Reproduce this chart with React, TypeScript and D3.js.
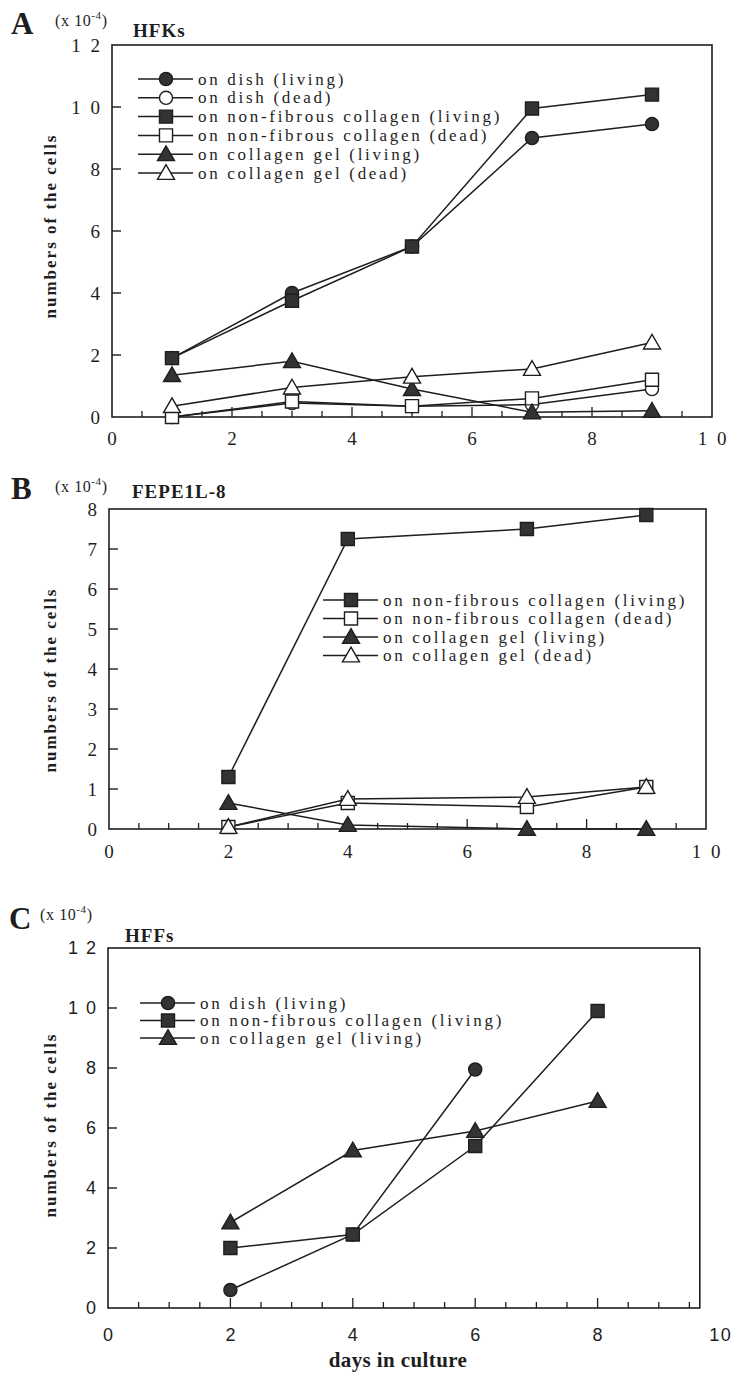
import React from "react";
import * as d3 from "d3";

// ---------- data ----------
const hfkDays = [1, 3, 5, 7, 9];
const hfkDishLiving = [1.9, 4.0, 5.5, 9.0, 9.45];
const hfkDishDead = [0.0, 0.45, 0.35, 0.4, 0.9];
const hfkNfLiving = [1.9, 3.75, 5.5, 9.95, 10.4];
const hfkNfDead = [0.0, 0.5, 0.35, 0.6, 1.2];
const hfkGelLiving = [1.35, 1.8, 0.9, 0.15, 0.2];
const hfkGelDead = [0.35, 0.95, 1.3, 1.55, 2.4];

const fepDays = [2, 4, 7, 9];
const fepNfLiving = [1.3, 7.25, 7.5, 7.85];
const fepNfDead = [0.05, 0.65, 0.55, 1.05];
const fepGelLiving = [0.65, 0.1, 0.0, 0.0];
const fepGelDead = [0.05, 0.75, 0.8, 1.05];

const hffDishDays = [2, 4, 6];
const hffDish = [0.6, 2.45, 7.95];
const hffDays = [2, 4, 6, 8];
const hffNf = [2.0, 2.45, 5.4, 9.9];
const hffGel = [2.85, 5.25, 5.9, 6.9];

const labelsA = [
  "on dish (living)",
  "on dish (dead)",
  "on non-fibrous collagen (living)",
  "on non-fibrous collagen (dead)",
  "on collagen gel (living)",
  "on collagen gel (dead)",
];
const labelsB = [
  "on non-fibrous collagen (living)",
  "on non-fibrous collagen (dead)",
  "on collagen gel (living)",
  "on collagen gel (dead)",
];
const labelsC = [
  "on dish (living)",
  "on non-fibrous collagen (living)",
  "on collagen gel (living)",
];

const xTicksAB = [0, 2, 4, 6, 8, 10];
const xTickLabelsAB = ["0", "2", "4", "6", "8", "1 0"];
const xTickLabelsC = ["0", "2", "4", "6", "8", "10"];
const yTicks12 = [0, 2, 4, 6, 8, 10, 12];
const yTickLabels12 = ["0", "2", "4", "6", "8", "1 0", "1 2"];
const yTicks8 = [0, 1, 2, 3, 4, 5, 6, 7, 8];
const yTickLabels8 = ["0", "1", "2", "3", "4", "5", "6", "7", "8"];

// ---------- drawing ----------
type Shape = "circle" | "square" | "triangle";
interface Series {
  days: number[];
  values: number[];
  shape: Shape;
  filled: boolean;
  label: string;
}

const INK = "#1e1e1e";
const SERIF = "'Liberation Serif', 'Times New Roman', serif";
const SANS = "'Liberation Sans', Arial, sans-serif";

function symbolPath(shape: Shape) {
  const t =
    shape === "circle" ? d3.symbolCircle : shape === "square" ? d3.symbolSquare : d3.symbolTriangle;
  const size = shape === "circle" ? 135 : shape === "square" ? 170 : 125;
  return d3.symbol().type(t).size(size)() as string;
}

function Marker({ x, y, shape, filled }: { x: number; y: number; shape: Shape; filled: boolean }) {
  const dy = shape === "triangle" ? 1.5 : 0;
  return (
    <path
      d={symbolPath(shape)}
      transform={`translate(${x},${y + dy})`}
      fill={filled ? "#333" : "#fff"}
      stroke={INK}
      strokeWidth={1.4}
    />
  );
}

interface PanelProps {
  series: Series[];
  xRange: [number, number];
  xFrameEnd: number;
  yMax: number;
  yRange: [number, number];
  yTicks: number[];
  yTickLabels: string[];
  xTickLabels: string[];
  tickFont: string;
  tickSize: number;
  tickSpacing: number;
  xLabelOffset: number;
  legendX: number;
  legendY: number;
  legendGap: number;
  letter: string;
  letterPos: [number, number];
  unitPos: [number, number];
  title: string;
  titlePos: [number, number];
  yTitleCenter: number;
}

function Panel(p: PanelProps) {
  const x = d3.scaleLinear().domain([0, 10]).range(p.xRange);
  const y = d3.scaleLinear().domain([0, p.yMax]).range(p.yRange);
  const line = d3
    .line<[number, number]>()
    .x((d) => x(d[0]))
    .y((d) => y(d[1]));
  const x0 = x(0);
  const x1 = x(p.xFrameEnd);
  const yb = y(0);
  const yt = y(p.yMax);
  const minor = d3.range(0.5, p.xFrameEnd, 0.5);
  return (
    <g>
      {/* panel letter, unit, title */}
      <text x={p.letterPos[0]} y={p.letterPos[1]} fontFamily={SERIF} fontSize={31} fontWeight="bold" fill={INK}>
        {p.letter}
      </text>
      <text x={p.unitPos[0]} y={p.unitPos[1]} fontFamily={SERIF} fontSize={16} letterSpacing={0.6} fill={INK}>
        (x 10
        <tspan dy={-7} fontSize={11}>
          -4
        </tspan>
        <tspan dy={7}>)</tspan>
      </text>
      <text
        x={p.titlePos[0]}
        y={p.titlePos[1]}
        fontFamily={SERIF}
        fontSize={19}
        fontWeight="bold"
        letterSpacing={1}
        fill={INK}
      >
        {p.title}
      </text>
      {/* y title */}
      <text
        transform={`translate(50,${p.yTitleCenter}) rotate(-90)`}
        textAnchor="middle"
        dominantBaseline="central"
        fontFamily={SERIF}
        fontSize={17}
        fontWeight="bold"
        letterSpacing={2}
        fill={INK}
      >
        numbers of the cells
      </text>
      {/* frame */}
      <rect x={x0} y={yt} width={x1 - x0} height={yb - yt} fill="none" stroke={INK} strokeWidth={1.6} />
      {/* y ticks */}
      {p.yTicks.map((t, i) => (
        <g key={"yt" + t}>
          {t > 0 && t < p.yMax && <line x1={x0} x2={x0 + 9} y1={y(t)} y2={y(t)} stroke={INK} strokeWidth={1.4} />}
          <text
            x={x0 - 12 + p.tickSpacing}
            y={y(t)}
            textAnchor="end"
            dominantBaseline="central"
            fontFamily={p.tickFont}
            fontSize={p.tickSize}
            letterSpacing={p.tickSpacing}
            fill={INK}
          >
            {p.yTickLabels[i]}
          </text>
        </g>
      ))}
      {/* x ticks */}
      {minor.map((t) => (
        <line
          key={"xm" + t}
          x1={x(t)}
          x2={x(t)}
          y1={yb}
          y2={yb - (t % 2 === 0 ? 10 : 6)}
          stroke={INK}
          strokeWidth={1.3}
        />
      ))}
      {xTicksAB.map((t, i) => (
        <text
          key={"xl" + t}
          x={x(t) + p.tickSpacing / 2}
          y={yb + p.xLabelOffset}
          textAnchor="middle"
          dominantBaseline="central"
          fontFamily={p.tickFont}
          fontSize={p.tickSize}
          letterSpacing={p.tickSpacing}
          fill={INK}
        >
          {p.xTickLabels[i]}
        </text>
      ))}
      {/* series lines */}
      {p.series.map((s, i) => (
        <path
          key={"l" + i}
          d={line(s.days.map((d, j) => [d, s.values[j]] as [number, number])) as string}
          fill="none"
          stroke={INK}
          strokeWidth={1.5}
        />
      ))}
      {/* markers */}
      {p.series.map((s, i) =>
        s.days.map((d, j) => (
          <Marker key={"m" + i + "-" + j} x={x(d)} y={y(s.values[j])} shape={s.shape} filled={s.filled} />
        ))
      )}
      {/* legend */}
      {p.series.map((s, i) => {
        const ly = p.legendY + i * p.legendGap;
        return (
          <g key={"lg" + i}>
            <line x1={p.legendX} x2={p.legendX + 55} y1={ly} y2={ly} stroke={INK} strokeWidth={1.5} />
            <Marker x={p.legendX + 28} y={ly} shape={s.shape} filled={s.filled} />
            <text
              x={p.legendX + 60}
              y={ly}
              dominantBaseline="central"
              fontFamily={SERIF}
              fontSize={17}
              letterSpacing={2.7}
              fill={INK}
            >
              {s.label}
            </text>
          </g>
        );
      })}
    </g>
  );
}

export default function App() {
  const seriesA: Series[] = [
    { days: hfkDays, values: hfkDishLiving, shape: "circle", filled: true, label: labelsA[0] },
    { days: hfkDays, values: hfkDishDead, shape: "circle", filled: false, label: labelsA[1] },
    { days: hfkDays, values: hfkNfLiving, shape: "square", filled: true, label: labelsA[2] },
    { days: hfkDays, values: hfkNfDead, shape: "square", filled: false, label: labelsA[3] },
    { days: hfkDays, values: hfkGelLiving, shape: "triangle", filled: true, label: labelsA[4] },
    { days: hfkDays, values: hfkGelDead, shape: "triangle", filled: false, label: labelsA[5] },
  ];
  const seriesB: Series[] = [
    { days: fepDays, values: fepNfLiving, shape: "square", filled: true, label: labelsB[0] },
    { days: fepDays, values: fepNfDead, shape: "square", filled: false, label: labelsB[1] },
    { days: fepDays, values: fepGelLiving, shape: "triangle", filled: true, label: labelsB[2] },
    { days: fepDays, values: fepGelDead, shape: "triangle", filled: false, label: labelsB[3] },
  ];
  const seriesC: Series[] = [
    { days: hffDishDays, values: hffDish, shape: "circle", filled: true, label: labelsC[0] },
    { days: hffDays, values: hffNf, shape: "square", filled: true, label: labelsC[1] },
    { days: hffDays, values: hffGel, shape: "triangle", filled: true, label: labelsC[2] },
  ];
  return (
    <svg width={740} height={1376} style={{ position: "absolute", left: 0, top: 0, background: "#fff" }}>
      <Panel
        series={seriesA}
        xRange={[112, 712]}
        xFrameEnd={10}
        yMax={12}
        yRange={[417, 45]}
        yTicks={yTicks12}
        yTickLabels={yTickLabels12}
        xTickLabels={xTickLabelsAB}
        tickFont={SERIF}
        tickSize={19}
        tickSpacing={2.5}
        xLabelOffset={21}
        legendX={138}
        legendY={79}
        legendGap={18.8}
        letter="A"
        letterPos={[11, 34]}
        unitPos={[55, 26]}
        title="HFKs"
        titlePos={[133, 37]}
        yTitleCenter={226}
      />
      <Panel
        series={seriesB}
        xRange={[109, 706]}
        xFrameEnd={10}
        yMax={8}
        yRange={[829, 509]}
        yTicks={yTicks8}
        yTickLabels={yTickLabels8}
        xTickLabels={xTickLabelsAB}
        tickFont={SERIF}
        tickSize={19}
        tickSpacing={2.5}
        xLabelOffset={22}
        legendX={323}
        legendY={600}
        legendGap={18.5}
        letter="B"
        letterPos={[11, 499]}
        unitPos={[55, 492]}
        title="FEPE1L-8"
        titlePos={[132, 498]}
        yTitleCenter={680}
      />
      <Panel
        series={seriesC}
        xRange={[108, 720]}
        xFrameEnd={9.67}
        yMax={12}
        yRange={[1308, 948]}
        yTicks={yTicks12}
        yTickLabels={yTickLabels12}
        xTickLabels={xTickLabelsC}
        tickFont={SANS}
        tickSize={18}
        tickSpacing={1.5}
        xLabelOffset={27}
        legendX={140}
        legendY={1003}
        legendGap={17.5}
        letter="C"
        letterPos={[9, 929]}
        unitPos={[40, 920]}
        title="HFFs"
        titlePos={[125, 942]}
        yTitleCenter={1125}
      />
      <text
        x={398}
        y={1367}
        textAnchor="middle"
        fontFamily={SERIF}
        fontSize={21}
        fontWeight="bold"
        letterSpacing={0.4}
        fill={INK}
      >
        days in culture
      </text>
    </svg>
  );
}
